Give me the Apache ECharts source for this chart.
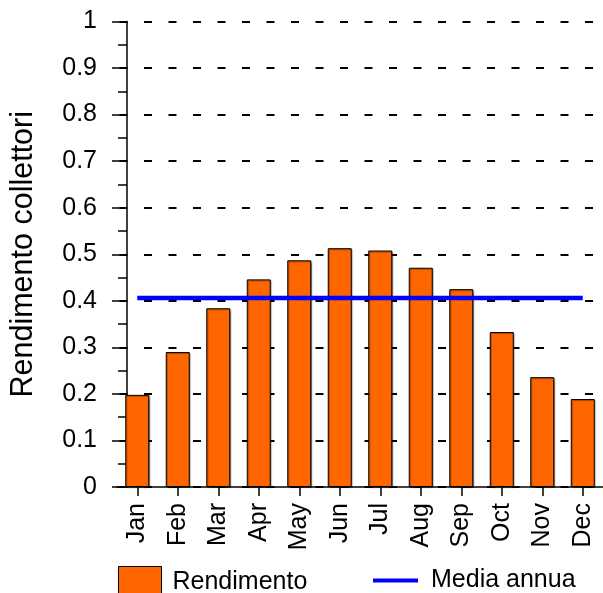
<!DOCTYPE html>
<html><head><meta charset="utf-8">
<script src="https://cdn.jsdelivr.net/npm/echarts@6/dist/echarts.min.js"></script>
<style>html,body{margin:0;padding:0;background:#fff}#c{width:603px;height:593px}</style>
</head><body><div id="c"></div>
<script>
const categories = ['Jan','Feb','Mar','Apr','May','Jun','Jul','Aug','Sep','Oct','Nov','Dec'];
const rendimento = [0.198,0.290,0.384,0.446,0.487,0.513,0.508,0.471,0.425,0.333,0.236,0.189];
const mediaAnnua = 0.406;
const mediaValues = categories.map(() => mediaAnnua);
const yTicks = [0,0.1,0.2,0.3,0.4,0.5,0.6,0.7,0.8,0.9,1];

const chart = echarts.init(document.getElementById('c'), null, {renderer:'canvas'});
const font = 'Liberation Sans, Arial, sans-serif';
chart.setOption({
  animation:false,
  backgroundColor:'#fff',
  textStyle:{fontFamily:font},
  grid:{left:116, right:-11, top:21.5, bottom:106, containLabel:false},
  legend:[{
    left:113, top:561, itemWidth:43, itemHeight:32,
    textStyle:{fontSize:25, color:'#000', fontFamily:font, padding:[0,0,0,6]},
    data:[{name:'Rendimento', icon:'rect', itemStyle:{color:'#FF6600', borderColor:'#000', borderWidth:1}}]
  },{
    left:368, top:563, itemWidth:45, itemHeight:4,
    textStyle:{fontSize:25, color:'#000', fontFamily:font, padding:[0,0,0,8]},
    data:[{name:'Media annua', icon:'rect', itemStyle:{color:'#0000FF'}}]
  }],
  xAxis:{
    type:'category', data:categories, boundaryGap:true,
    axisLine:{show:true, lineStyle:{color:'#000', width:1.5}},
    axisTick:{show:true, alignWithLabel:true, length:9, lineStyle:{color:'#000', width:1.5}},
    axisLabel:{rotate:90, margin:16, fontSize:25, color:'#000', fontFamily:font},
    splitLine:{show:false}
  },
  yAxis:{
    type:'value', min:0, max:1, interval:0.1, offset:-10,
    name:'Rendimento collettori', nameLocation:'middle', nameGap:88,
    nameTextStyle:{fontSize:30.5, color:'#000', fontFamily:font},
    axisLine:{show:true, lineStyle:{color:'#000', width:1.5}},
    axisTick:{show:true, inside:false, length:15, lineStyle:{color:'#000', width:1.5}},
    minorTick:{show:true, splitNumber:2, length:9, lineStyle:{color:'#000', width:1.5}},
    axisLabel:{margin:30, fontSize:25, color:'#000', fontFamily:font,
      formatter:v => { const t = yTicks.find(x => Math.abs(x-v)<1e-9); return t===undefined? '' : String(+t.toFixed(1)); }},
    splitLine:{show:true, lineStyle:{color:'#000', width:2, type:[8,16.5], dashOffset:22}}
  },
  series:[
    {name:'Rendimento', type:'bar', data:rendimento, barWidth:24,
     itemStyle:{color:'#FF6600', borderColor:'#000', borderWidth:1, shadowColor:'rgba(0,0,0,0.35)', shadowOffsetX:1, shadowOffsetY:1, shadowBlur:1}, z:2},
    {name:'Media annua', type:'line', data:mediaValues, symbol:'none', showSymbol:false,
     lineStyle:{color:'#0000FF', width:4.5}, itemStyle:{color:'#0000FF'}, z:3}
  ]
});
</script></body></html>
